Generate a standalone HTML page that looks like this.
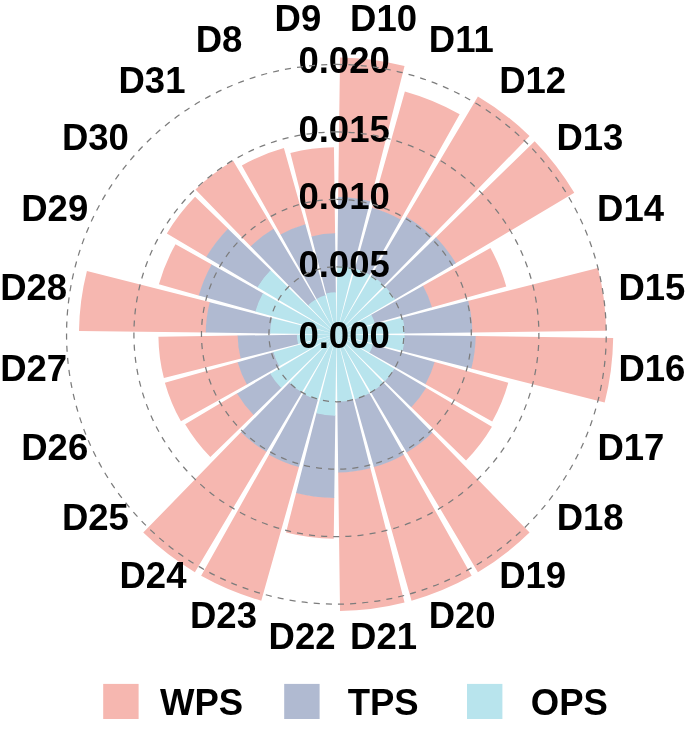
<!DOCTYPE html>
<html><head><meta charset="utf-8"><title>Polar chart</title>
<style>html,body{margin:0;padding:0;background:#fff}body{width:685px;height:729px;overflow:hidden}</style></head>
<body>
<svg width="685" height="729" viewBox="0 0 685 729" style="display:block">
<rect width="685" height="729" fill="#fff"/>
<path d="M338.19 197.71L340.02 57.52A276.80 276.80 0 0 1 404.54 66.02L370.02 201.90A136.60 136.60 0 0 0 338.19 197.71ZM371.93 208.31L404.88 91.47A252.30 252.30 0 0 1 459.68 114.17L400.36 220.09A130.90 130.90 0 0 0 371.93 208.31ZM406.04 217.25L477.93 96.42A276.80 276.80 0 0 1 529.55 136.03L431.44 236.74A136.20 136.20 0 0 0 406.04 217.25ZM435.54 237.73L534.67 141.15A276.80 276.80 0 0 1 574.28 192.77L455.34 263.54A138.40 138.40 0 0 0 435.54 237.73ZM422.52 286.07L490.40 248.06A176.50 176.50 0 0 1 506.27 286.39L431.39 307.51A98.70 98.70 0 0 0 422.52 286.07ZM467.63 300.97L597.90 267.89A269.80 269.80 0 0 1 606.18 330.77L471.79 332.53A135.40 135.40 0 0 0 467.63 300.97ZM475.09 336.12L613.18 337.92A276.80 276.80 0 0 1 604.68 402.44L470.83 368.44A138.70 138.70 0 0 0 475.09 336.12ZM434.09 361.85L508.29 382.78A178.60 178.60 0 0 1 492.23 421.57L424.96 383.90A101.50 101.50 0 0 0 434.09 361.85ZM425.69 387.42L491.95 426.84A181.00 181.00 0 0 1 466.05 460.60L410.82 406.80A103.90 103.90 0 0 0 425.69 387.42ZM431.93 432.36L529.55 532.57A276.80 276.80 0 0 1 477.93 572.18L406.40 451.95A136.90 136.90 0 0 0 431.93 432.36ZM403.54 454.18L471.65 575.81A276.80 276.80 0 0 1 411.53 600.71L373.70 466.54A137.40 137.40 0 0 0 403.54 454.18ZM370.27 467.67L404.54 602.58A276.80 276.80 0 0 1 340.02 611.08L338.20 471.89A137.60 137.60 0 0 0 370.27 467.67ZM334.26 497.49L333.72 538.78A204.50 204.50 0 0 1 286.06 532.51L296.23 492.48A163.20 163.20 0 0 0 334.26 497.49ZM299.10 466.54L261.27 600.71A276.80 276.80 0 0 1 201.15 575.81L269.26 454.18A137.40 137.40 0 0 0 299.10 466.54ZM266.76 451.35L194.87 572.18A276.80 276.80 0 0 1 143.25 532.57L241.36 431.86A136.20 136.20 0 0 0 266.76 451.35ZM254.03 414.55L210.33 457.11A176.00 176.00 0 0 1 185.14 424.29L237.57 393.10A115.00 115.00 0 0 0 254.03 414.55ZM247.41 384.14L180.92 421.37A178.20 178.20 0 0 1 164.89 382.67L238.23 361.99A102.00 102.00 0 0 0 247.41 384.14ZM241.22 358.47L163.88 378.12A178.00 178.00 0 0 1 158.42 336.63L238.21 335.59A98.20 98.20 0 0 0 241.22 358.47ZM206.31 332.60L79.02 330.93A257.40 257.40 0 0 1 86.92 270.94L210.30 302.28A130.10 130.10 0 0 0 206.31 332.60ZM199.35 295.65L158.92 284.25A184.40 184.40 0 0 1 175.51 244.20L212.16 264.72A142.40 142.40 0 0 0 199.35 295.65ZM206.80 257.20L166.84 233.42A197.30 197.30 0 0 1 195.07 196.63L228.38 229.07A150.80 150.80 0 0 0 206.80 257.20ZM251.13 246.77L195.45 189.61A202.00 202.00 0 0 1 233.12 160.70L273.92 229.28A122.20 122.20 0 0 0 251.13 246.77ZM280.79 235.01L241.85 165.47A193.50 193.50 0 0 1 283.88 148.06L305.51 224.77A113.80 113.80 0 0 0 280.79 235.01ZM311.69 236.99L290.37 153.05A187.00 187.00 0 0 1 333.95 147.32L335.09 233.91A100.40 100.40 0 0 0 311.69 236.99Z" fill="#f6b7b0"/>
<path d="M337.29 266.61L338.20 197.11A137.20 137.20 0 0 1 370.17 201.32L353.06 268.68A67.70 67.70 0 0 0 337.29 266.61ZM354.78 269.14L372.09 207.74A131.50 131.50 0 0 1 400.65 219.57L369.48 275.23A67.70 67.70 0 0 0 354.78 269.14ZM371.01 276.12L406.34 216.73A136.80 136.80 0 0 1 431.86 236.31L383.64 285.81A67.70 67.70 0 0 0 371.01 276.12ZM384.89 287.06L435.97 237.31A139.00 139.00 0 0 1 455.86 263.23L394.58 299.69A67.70 67.70 0 0 0 384.89 287.06ZM370.78 315.05L423.04 285.78A99.30 99.30 0 0 1 431.97 307.35L374.32 323.61A39.40 39.40 0 0 0 370.78 315.05ZM402.02 317.64L468.22 300.82A136.00 136.00 0 0 1 472.39 332.52L404.09 333.41A67.70 67.70 0 0 0 402.02 317.64ZM404.09 335.19L475.69 336.12A139.30 139.30 0 0 1 471.41 368.59L402.02 350.96A67.70 67.70 0 0 0 404.09 335.19ZM372.40 344.45L434.67 362.01A102.10 102.10 0 0 1 425.48 384.19L369.03 352.57A37.40 37.40 0 0 0 372.40 344.45ZM393.89 368.51L426.21 387.73A104.50 104.50 0 0 1 411.25 407.22L384.32 380.98A66.90 66.90 0 0 0 393.89 368.51ZM383.08 382.22L432.35 432.79A137.50 137.50 0 0 1 406.70 452.47L370.61 391.79A66.90 66.90 0 0 0 383.08 382.22ZM369.09 392.67L403.83 454.70A138.00 138.00 0 0 1 373.86 467.12L354.56 398.69A66.90 66.90 0 0 0 369.09 392.67ZM352.87 399.14L370.42 468.25A138.20 138.20 0 0 1 338.21 472.49L337.28 401.19A66.90 66.90 0 0 0 352.87 399.14ZM335.34 415.19L334.26 498.09A163.80 163.80 0 0 1 296.08 493.06L316.49 412.71A80.90 80.90 0 0 0 335.34 415.19ZM318.05 399.36L298.94 467.12A138.00 138.00 0 0 1 268.97 454.70L303.37 393.28A67.60 67.60 0 0 0 318.05 399.36ZM302.19 391.79L266.46 451.87A136.80 136.80 0 0 1 240.94 432.29L289.72 382.22A66.90 66.90 0 0 0 302.19 391.79ZM281.67 387.61L253.60 414.96A115.60 115.60 0 0 1 237.05 393.41L270.74 373.36A76.40 76.40 0 0 0 281.67 387.61ZM279.78 366.01L246.88 384.43A102.60 102.60 0 0 1 237.65 362.15L273.94 351.92A64.90 64.90 0 0 0 279.78 366.01ZM298.70 343.88L240.64 358.62A98.80 98.80 0 0 1 237.61 335.59L297.50 334.81A38.90 38.90 0 0 0 298.70 343.88ZM270.71 333.44L205.71 332.59A130.70 130.70 0 0 1 209.72 302.13L272.72 318.13A65.70 65.70 0 0 0 270.71 333.44ZM255.94 311.61L198.77 295.48A143.00 143.00 0 0 1 211.63 264.43L263.46 293.45A83.60 83.60 0 0 0 255.94 311.61ZM257.94 287.62L206.29 256.89A151.40 151.40 0 0 1 227.95 228.65L271.00 270.59A91.30 91.30 0 0 0 257.94 287.62ZM308.49 305.65L250.71 246.34A122.80 122.80 0 0 1 273.61 228.76L315.95 299.92A40.00 40.00 0 0 0 308.49 305.65ZM316.90 299.49L280.50 234.49A114.40 114.40 0 0 1 305.35 224.20L325.57 295.90A39.90 39.90 0 0 0 316.90 299.49ZM326.21 294.17L311.54 236.41A101.00 101.00 0 0 1 335.08 233.31L335.86 292.90A41.40 41.40 0 0 0 326.21 294.17Z" fill="#b0bad1"/>
<path d="M336.40 334.30L337.29 266.01A68.30 68.30 0 0 1 353.21 268.10ZM336.40 334.30L354.94 268.56A68.30 68.30 0 0 1 369.77 274.71ZM336.40 334.30L371.32 275.60A68.30 68.30 0 0 1 384.06 285.38ZM336.40 334.30L385.32 286.64A68.30 68.30 0 0 1 395.10 299.38ZM336.40 334.30L371.30 314.76A40.00 40.00 0 0 1 374.90 323.44ZM336.40 334.30L402.60 317.49A68.30 68.30 0 0 1 404.69 333.41ZM336.40 334.30L404.69 335.19A68.30 68.30 0 0 1 402.60 351.11ZM336.40 334.30L372.97 344.61A38.00 38.00 0 0 1 369.55 352.87ZM336.40 334.30L394.41 368.81A67.50 67.50 0 0 1 384.75 381.40ZM336.40 334.30L383.50 382.65A67.50 67.50 0 0 1 370.91 392.31ZM336.40 334.30L369.38 393.19A67.50 67.50 0 0 1 354.72 399.27ZM336.40 334.30L353.02 399.72A67.50 67.50 0 0 1 337.28 401.79ZM336.40 334.30L335.33 415.79A81.50 81.50 0 0 1 316.34 413.29ZM336.40 334.30L317.89 399.94A68.20 68.20 0 0 1 303.08 393.80ZM336.40 334.30L301.89 392.31A67.50 67.50 0 0 1 289.30 382.65ZM336.40 334.30L281.24 388.03A77.00 77.00 0 0 1 270.23 373.67ZM336.40 334.30L279.25 366.30A65.50 65.50 0 0 1 273.36 352.08ZM336.40 334.30L298.12 344.02A39.50 39.50 0 0 1 296.90 334.82ZM336.40 334.30L270.11 333.43A66.30 66.30 0 0 1 272.14 317.98ZM336.40 334.30L255.36 311.44A84.20 84.20 0 0 1 262.94 293.16ZM336.40 334.30L257.42 287.31A91.90 91.90 0 0 1 270.57 270.17ZM336.40 334.30L308.07 305.22A40.60 40.60 0 0 1 315.64 299.41ZM336.40 334.30L316.61 298.96A40.50 40.50 0 0 1 325.41 295.32ZM336.40 334.30L326.06 293.59A42.00 42.00 0 0 1 335.85 292.30Z" fill="#b8e4ed"/>
<g font-family="Liberation Sans, Arial, Helvetica, sans-serif" font-weight="bold" font-size="36.5" fill="#000" text-anchor="middle">
<text transform="translate(344.1 347.90) scale(1 1.03)">0.000</text>
<text transform="translate(344.1 276.54) scale(1 1.03)">0.005</text>
<text transform="translate(344.1 209.18) scale(1 1.03)">0.010</text>
<text transform="translate(344.1 141.52) scale(1 1.03)">0.015</text>
<text transform="translate(344.1 73.46) scale(1 1.03)">0.020</text>
<text transform="translate(383.50 31.17) scale(1 1.03)">D10</text>
<text transform="translate(461.32 52.23) scale(1 1.03)">D11</text>
<text transform="translate(532.61 92.93) scale(1 1.03)">D12</text>
<text transform="translate(589.87 150.49) scale(1 1.03)">D13</text>
<text transform="translate(630.57 220.98) scale(1 1.03)">D14</text>
<text transform="translate(651.93 299.60) scale(1 1.03)">D15</text>
<text transform="translate(651.93 380.70) scale(1 1.03)">D16</text>
<text transform="translate(630.87 459.62) scale(1 1.03)">D17</text>
<text transform="translate(590.17 530.11) scale(1 1.03)">D18</text>
<text transform="translate(532.61 587.67) scale(1 1.03)">D19</text>
<text transform="translate(462.12 628.37) scale(1 1.03)">D20</text>
<text transform="translate(383.50 649.43) scale(1 1.03)">D21</text>
<text transform="translate(302.10 649.43) scale(1 1.03)">D22</text>
<text transform="translate(223.48 628.37) scale(1 1.03)">D23</text>
<text transform="translate(152.99 587.67) scale(1 1.03)">D24</text>
<text transform="translate(95.43 530.11) scale(1 1.03)">D25</text>
<text transform="translate(54.73 459.62) scale(1 1.03)">D26</text>
<text transform="translate(33.67 381.00) scale(1 1.03)">D27</text>
<text transform="translate(33.67 299.60) scale(1 1.03)">D28</text>
<text transform="translate(54.73 220.98) scale(1 1.03)">D29</text>
<text transform="translate(95.43 150.49) scale(1 1.03)">D30</text>
<text transform="translate(151.99 92.93) scale(1 1.03)">D31</text>
<text transform="translate(219.08 52.23) scale(1 1.03)">D8</text>
<text transform="translate(297.90 31.17) scale(1 1.03)">D9</text>
</g>
<path d="M336.40 266.84A67.46 67.46 0 1 1 336.40 401.76A67.46 67.46 0 1 1 336.40 266.84M336.40 199.38A134.92 134.92 0 1 1 336.40 469.22A134.92 134.92 0 1 1 336.40 199.38M336.40 131.92A202.38 202.38 0 1 1 336.40 536.68A202.38 202.38 0 1 1 336.40 131.92M336.40 64.46A269.84 269.84 0 1 1 336.40 604.14A269.84 269.84 0 1 1 336.40 64.46" fill="none" stroke="#7c7c7c" stroke-width="1.25" stroke-dasharray="6.085 6.085"/>
<rect x="103.2" y="683.9" width="35.4" height="35.1" fill="#f6b7b0"/>
<rect x="284.2" y="683.9" width="35.4" height="35.1" fill="#b0bad1"/>
<rect x="467.0" y="683.9" width="35.4" height="35.1" fill="#b8e4ed"/>
<g font-family="Liberation Sans, Arial, Helvetica, sans-serif" font-weight="bold" font-size="36.5" fill="#000">
<text transform="translate(160 714.6) scale(1 1.03)">WPS</text>
<text transform="translate(347.7 714.6) scale(1 1.03)">TPS</text>
<text transform="translate(530.8 714.6) scale(1 1.03)">OPS</text>
</g>
</svg>
</body></html>
